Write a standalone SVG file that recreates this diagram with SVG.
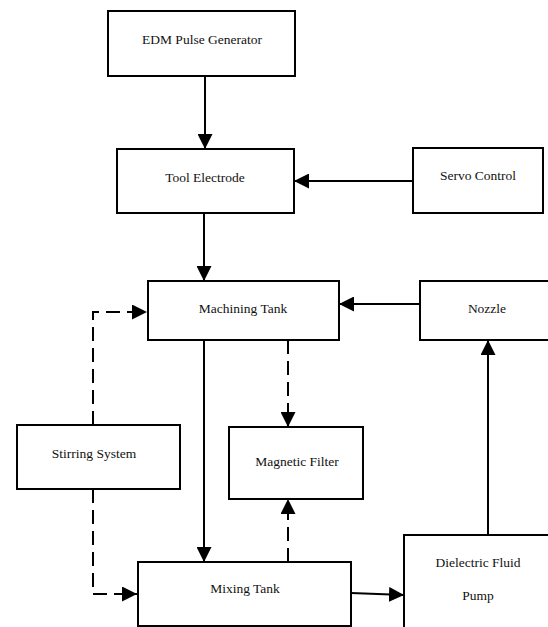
<svg xmlns="http://www.w3.org/2000/svg" width="548" height="627" viewBox="0 0 548 627">
<defs>
<style>
.box{fill:#fff;stroke:#000;stroke-width:2}
.lbl{font-family:"Liberation Serif","Times New Roman",serif;font-size:13.5px;fill:#111;text-anchor:middle}
.c{fill:none;stroke:#000;stroke-width:2}
.d{stroke-dasharray:14 7}
</style>
<marker id="ah" viewBox="0 0 15 15" refX="15" refY="7.5" markerWidth="15" markerHeight="15" orient="auto" markerUnits="userSpaceOnUse">
<path d="M0,0 L15,7.5 L0,15 z" fill="#000"/>
</marker>
</defs>
<rect width="548" height="627" fill="#fff"/>
<g id="connectors">
<path class="c" d="M205,76 V149" marker-end="url(#ah)"/>
<path class="c" d="M413,181 H294" marker-end="url(#ah)"/>
<path class="c" d="M204,213 V281" marker-end="url(#ah)"/>
<path class="c" d="M420,304 H339" marker-end="url(#ah)"/>
<path class="c d" d="M93,425 V312 H147" marker-end="url(#ah)"/>
<path class="c" d="M204,340 V562" marker-end="url(#ah)"/>
<path class="c d" d="M288,340 V427" marker-end="url(#ah)"/>
<path class="c d" d="M288,562 V499" marker-end="url(#ah)"/>
<path class="c d" d="M93,489 V594 H137" marker-end="url(#ah)"/>
<path class="c" d="M351,593 L404,595" marker-end="url(#ah)"/>
<path class="c" d="M488,535 V340" marker-end="url(#ah)"/>
</g>
<g id="edm"><rect class="box" x="108" y="11" width="187" height="65"/><text class="lbl" x="202" y="43.5">EDM Pulse Generator</text></g>
<g id="tool"><rect class="box" x="117" y="149" width="177" height="64"/><text class="lbl" x="205" y="181.5">Tool Electrode</text></g>
<g id="servo"><rect class="box" x="413" y="148" width="130" height="65"/><text class="lbl" x="478" y="180">Servo Control</text></g>
<g id="machining"><rect class="box" x="148" y="281" width="191" height="59"/><text class="lbl" x="243" y="313">Machining Tank</text></g>
<g id="nozzle"><rect class="box" x="420" y="281" width="140" height="59"/><text class="lbl" x="487" y="312.5">Nozzle</text></g>
<g id="stirring"><rect class="box" x="17" y="425" width="163" height="64"/><text class="lbl" x="94" y="457.5">Stirring System</text></g>
<g id="magnetic"><rect class="box" x="229" y="427" width="134" height="72"/><text class="lbl" x="297" y="466">Magnetic Filter</text></g>
<g id="mixing"><rect class="box" x="138" y="562" width="213" height="64"/><text class="lbl" x="245" y="593">Mixing Tank</text></g>
<g id="pump"><rect class="box" x="404" y="535" width="160" height="100"/><text class="lbl" x="478" y="566.5">Dielectric Fluid</text><text class="lbl" x="478" y="600">Pump</text></g>
</svg>
